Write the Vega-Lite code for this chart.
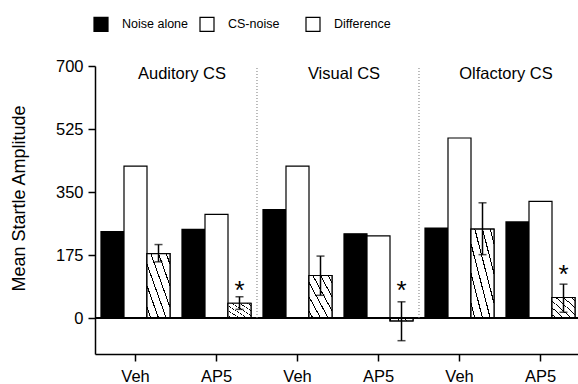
{
  "$schema": "https://vega.github.io/schema/vega-lite/v6.json",
  "width": 486,
  "height": 288,
  "autosize": {"type": "none"},
  "padding": {"left": 95, "top": 66, "right": 0, "bottom": 30},
  "background": "white",
  "config": {
    "font": "Liberation Sans",
    "view": {"stroke": null},
    "axis": {"labelColor": "black", "titleColor": "black", "domainColor": "black", "tickColor": "black", "grid": false}
  },
  "datasets": {
    "bars": [
      {"grp": "Auditory CS|Veh", "series": "Noise alone", "value": 240},
      {"grp": "Auditory CS|Veh", "series": "CS-noise", "value": 422},
      {"grp": "Auditory CS|Veh", "series": "Difference", "value": 179, "lo": 156, "hi": 204},
      {"grp": "Auditory CS|AP5", "series": "Noise alone", "value": 246},
      {"grp": "Auditory CS|AP5", "series": "CS-noise", "value": 288},
      {"grp": "Auditory CS|AP5", "series": "Difference", "value": 41, "lo": 24, "hi": 59},
      {"grp": "Visual CS|Veh", "series": "Noise alone", "value": 301},
      {"grp": "Visual CS|Veh", "series": "CS-noise", "value": 422},
      {"grp": "Visual CS|Veh", "series": "Difference", "value": 118, "lo": 63, "hi": 172},
      {"grp": "Visual CS|AP5", "series": "Noise alone", "value": 234},
      {"grp": "Visual CS|AP5", "series": "CS-noise", "value": 228},
      {"grp": "Visual CS|AP5", "series": "Difference", "value": -8, "lo": -63, "hi": 45},
      {"grp": "Olfactory CS|Veh", "series": "Noise alone", "value": 250},
      {"grp": "Olfactory CS|Veh", "series": "CS-noise", "value": 500},
      {"grp": "Olfactory CS|Veh", "series": "Difference", "value": 247, "lo": 176, "hi": 320},
      {"grp": "Olfactory CS|AP5", "series": "Noise alone", "value": 267},
      {"grp": "Olfactory CS|AP5", "series": "CS-noise", "value": 324},
      {"grp": "Olfactory CS|AP5", "series": "Difference", "value": 57, "lo": 16, "hi": 94}
    ],
    "stars": [
      {"grp": "Auditory CS|AP5", "series": "Difference", "value": 91, "mark": "*"},
      {"grp": "Visual CS|AP5", "series": "Difference", "value": 91, "mark": "*"},
      {"grp": "Olfactory CS|AP5", "series": "Difference", "value": 137, "mark": "*"}
    ],
    "titles": [
      {"grp": "Auditory CS|AP5", "label": "Auditory CS"},
      {"grp": "Visual CS|AP5", "label": "Visual CS"},
      {"grp": "Olfactory CS|AP5", "label": "Olfactory CS"}
    ],
    "seps": [
      {"grp": "Visual CS|Veh"},
      {"grp": "Olfactory CS|Veh"}
    ]
  },
  "layer": [
    {
      "data": {"name": "bars"},
      "mark": {"type": "bar", "stroke": "black", "strokeWidth": 1.2, "opacity": 1},
      "encoding": {
        "x": {
          "field": "grp", "type": "nominal", "sort": null,
          "scale": {"paddingInner": 0.148, "paddingOuter": 0.074},
          "axis": {
            "title": null, "labelExpr": "split(datum.value, '|')[1]", "labelAngle": 0,
            "labelFontSize": 16.5, "tickSize": 7, "labelPadding": 7, "domainWidth": 1.5, "tickWidth": 1.5
          }
        },
        "xOffset": {
          "field": "series", "type": "nominal", "sort": ["Noise alone", "CS-noise", "Difference"],
          "scale": {"paddingInner": 0, "paddingOuter": 0}
        },
        "y": {
          "field": "value", "type": "quantitative",
          "scale": {"domain": [-100, 700], "nice": false, "zero": false},
          "axis": {
            "title": "Mean Startle Amplitude", "values": [0, 175, 350, 525, 700],
            "labelFontSize": 16.5, "titleFontSize": 18, "titleFontWeight": "normal", "titleY": 132,
            "tickSize": 7, "labelPadding": 5, "titlePadding": 27, "domainWidth": 1.5, "tickWidth": 1.5
          }
        },
        "y2": {"datum": 0},
        "fill": {
          "field": "series", "type": "nominal",
          "scale": {
            "domain": ["Noise alone", "CS-noise", "Difference"],
            "range": ["#000000", "#ffffff", "#ffffff"]
          },
          "legend": {
            "orient": "none", "legendX": -2, "legendY": -50, "direction": "horizontal", "title": null,
            "symbolType": "square", "symbolSize": 196, "symbolStrokeColor": "black", "symbolStrokeWidth": 1.2,
            "symbolOpacity": 1, "labelFontSize": 12.5, "labelColor": "black", "labelOffset": 13,
            "columnPadding": 8, "gridAlign": "all",
            "encode": {
              "symbols": {
                "update": {
                  "stroke": {"value": "black"},
                  "strokeWidth": {"value": 1.2},
                  "opacity": {"value": 1},
                  "fill": [
                    {"test": "datum.value === 'Difference'", "value": {"gradient": "linear", "x1": 0, "y1": 1, "x2": 1, "y2": 0, "stops": [
                      {"offset": 0, "color": "#ffffff"},
                      {"offset": 0.47, "color": "#ffffff"}, {"offset": 0.47, "color": "#000000"}, {"offset": 0.53, "color": "#000000"}, {"offset": 0.53, "color": "#ffffff"},
                      {"offset": 1, "color": "#ffffff"}
                    ]}},
                    {"scale": "fill", "field": "value"}
                  ]
                }
              }
            }
          }
        }
      }
    },
    {
      "data": {"name": "bars"},
      "transform": [{"filter": "datum.series === 'Difference'"}],
      "mark": {
        "type": "bar", "stroke": "black", "strokeWidth": 1.2, "opacity": 1,
        "fill": {"gradient": "linear", "x1": 0, "y1": 1, "x2": 1, "y2": 0, "stops": [
          {"offset": 0, "color": "#ffffff"},
          {"offset": 0.071, "color": "#ffffff"}, {"offset": 0.071, "color": "#000000"}, {"offset": 0.095, "color": "#000000"}, {"offset": 0.095, "color": "#ffffff"},
          {"offset": 0.238, "color": "#ffffff"}, {"offset": 0.238, "color": "#000000"}, {"offset": 0.262, "color": "#000000"}, {"offset": 0.262, "color": "#ffffff"},
          {"offset": 0.405, "color": "#ffffff"}, {"offset": 0.405, "color": "#000000"}, {"offset": 0.429, "color": "#000000"}, {"offset": 0.429, "color": "#ffffff"},
          {"offset": 0.571, "color": "#ffffff"}, {"offset": 0.571, "color": "#000000"}, {"offset": 0.595, "color": "#000000"}, {"offset": 0.595, "color": "#ffffff"},
          {"offset": 0.738, "color": "#ffffff"}, {"offset": 0.738, "color": "#000000"}, {"offset": 0.762, "color": "#000000"}, {"offset": 0.762, "color": "#ffffff"},
          {"offset": 0.905, "color": "#ffffff"}, {"offset": 0.905, "color": "#000000"}, {"offset": 0.929, "color": "#000000"}, {"offset": 0.929, "color": "#ffffff"},
          {"offset": 1, "color": "#ffffff"}
        ]}
      },
      "encoding": {
        "x": {"field": "grp", "type": "nominal", "sort": null},
        "xOffset": {"field": "series", "type": "nominal", "sort": ["Noise alone", "CS-noise", "Difference"]},
        "y": {"field": "value", "type": "quantitative"},
        "y2": {"datum": 0}
      }
    },
    {
      "data": {"name": "bars"},
      "mark": {"type": "rule", "color": "black", "strokeWidth": 1.5},
      "encoding": {"y": {"datum": 0}}
    },
    {
      "data": {"name": "bars"},
      "transform": [{"filter": "datum.hi != null"}],
      "mark": {"type": "rule", "color": "black", "strokeWidth": 1.5},
      "encoding": {
        "x": {"field": "grp", "type": "nominal", "sort": null},
        "xOffset": {"field": "series", "type": "nominal", "sort": ["Noise alone", "CS-noise", "Difference"]},
        "y": {"field": "lo", "type": "quantitative"},
        "y2": {"field": "hi"}
      }
    },
    {
      "data": {"name": "bars"},
      "transform": [{"filter": "datum.hi != null"}, {"fold": ["lo", "hi"], "as": ["end", "pos"]}],
      "mark": {"type": "tick", "color": "black", "thickness": 1.5, "size": 8, "orient": "horizontal"},
      "encoding": {
        "x": {"field": "grp", "type": "nominal", "sort": null},
        "xOffset": {"field": "series", "type": "nominal", "sort": ["Noise alone", "CS-noise", "Difference"]},
        "y": {"field": "pos", "type": "quantitative"}
      }
    },
    {
      "data": {"name": "stars"},
      "mark": {"type": "text", "fontSize": 26, "color": "black", "baseline": "middle", "dy": 6},
      "encoding": {
        "x": {"field": "grp", "type": "nominal", "sort": null},
        "xOffset": {"field": "series", "type": "nominal", "sort": ["Noise alone", "CS-noise", "Difference"]},
        "y": {"field": "value", "type": "quantitative"},
        "text": {"field": "mark"}
      }
    },
    {
      "data": {"name": "seps"},
      "mark": {"type": "rule", "color": "#777777", "strokeWidth": 1, "strokeDash": [1, 2]},
      "encoding": {
        "x": {"field": "grp", "type": "nominal", "sort": null, "bandPosition": -0.087},
        "y": {"datum": 0},
        "y2": {"datum": 700}
      }
    },
    {
      "data": {"name": "titles"},
      "mark": {"type": "text", "fontSize": 16.5, "color": "black", "baseline": "top", "align": "center", "dy": 0},
      "encoding": {
        "x": {"field": "grp", "type": "nominal", "sort": null, "bandPosition": 0},
        "y": {"datum": 700},
        "text": {"field": "label"}
      }
    }
  ]
}
